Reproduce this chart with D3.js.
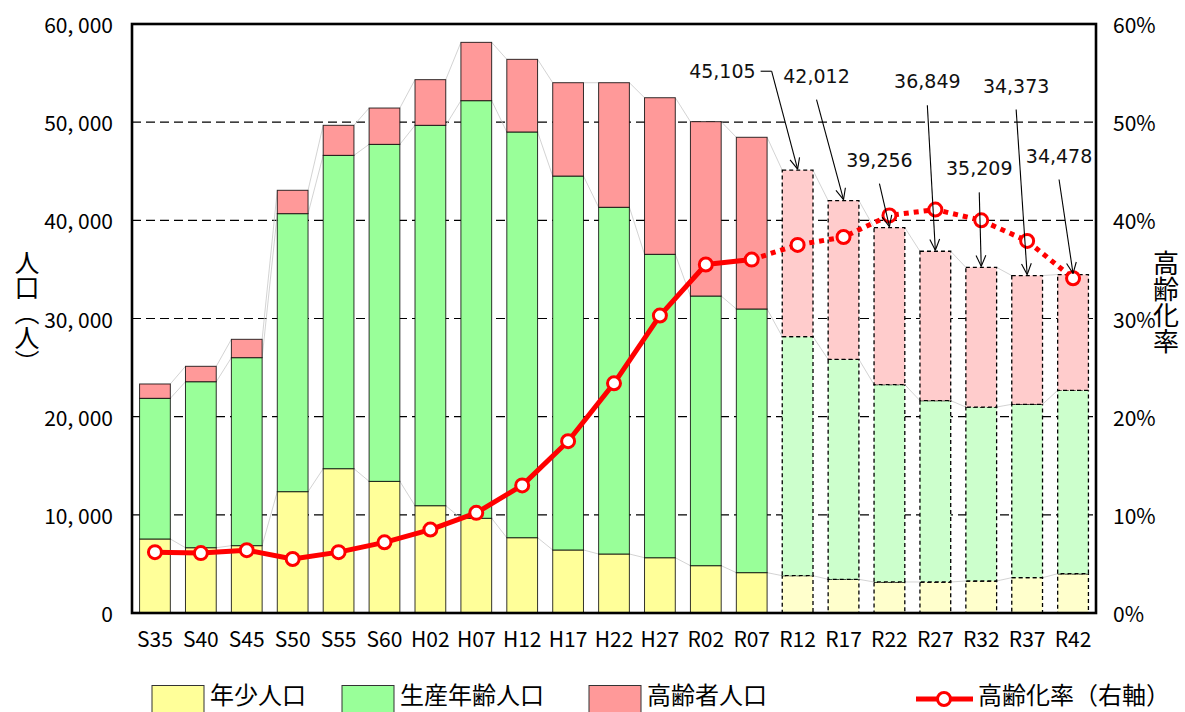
<!DOCTYPE html>
<html><head><meta charset="utf-8">
<script src="https://cdn.jsdelivr.net/npm/d3@7"></script>
<style>html,body{margin:0;padding:0;background:#fff;overflow:hidden}</style>
</head><body>
<svg id="chart" width="1185" height="712"></svg>
<script>
// ---- data ----
const categories = ["S35","S40","S45","S50","S55","S60","H02","H07","H12","H17","H22","H27","R02","R07","R12","R17","R22","R27","R32","R37","R42"];
const youngPop   = [7540,6650,6860,12360,14700,13410,10930,9650,7670,6420,6010,5630,4820,4110,3800,3430,3160,3160,3260,3600,4000];
const workingPop = [14330,16910,19150,28320,31920,34330,38750,42540,41330,38090,35320,30910,27470,26860,24350,22410,20100,18470,17720,17660,18680];
const elderlyPop = [1460,1570,1870,2380,3060,3700,4650,5940,7400,9510,12690,15950,17760,17490,16955,16172,15996,15219,14229,13113,11798];
const agingRate  = [6.2,6.1,6.4,5.5,6.2,7.2,8.5,10.2,13.0,17.5,23.4,30.3,35.5,36.0,37.5,38.3,40.5,41.1,40.0,37.9,34.1];
const projectedFrom = "R12";
const totalLabels = ["45,105","42,012","39,256","36,849","35,209","34,373","34,478"];
const leftTicks = [0,10000,20000,30000,40000,50000,60000];
const rightTicks = [0,10,20,30,40,50,60];
const seriesNames = ["年少人口","生産年齢人口","高齢者人口"];
const lineName = "高齢化率（右軸）";
const leftTitle = "人口（人）";
const rightTitle = "高齢化率";

// ---- layout ----
const plot = {l:132, r:1096, t:24, b:613};
const svg = d3.select("#chart");
const JP = "'MS Gothic','Noto Sans CJK JP',sans-serif";
const NUM = "'MS Gothic','Liberation Sans Narrow','Noto Sans CJK JP',sans-serif";

const x = d3.scaleBand().domain(categories).range([plot.l, plot.r]).paddingInner(0.33).paddingOuter(0.165);
const y = d3.scaleLinear().domain([0,60000]).range([plot.b, plot.t]);
const y2 = d3.scaleLinear().domain([0,60]).range([plot.b, plot.t]);
const projIdx = categories.indexOf(projectedFrom);

const fills = ["#FFFF99","#99FF99","#FF9999"];
const fillsProj = ["#FFFFCC","#CCFFCC","#FFCCCC"];

const rows = categories.map((c,i)=>({cat:c, i, young:youngPop[i], working:workingPop[i], elderly:elderlyPop[i]}));
const stack = d3.stack().keys(["young","working","elderly"])(rows);

// gridlines
svg.append("g").selectAll("line").data(leftTicks.filter(t=>t>0 && t<60000)).join("line")
  .attr("x1",plot.l).attr("x2",plot.r).attr("y1",d=>y(d)).attr("y2",d=>y(d))
  .attr("stroke","#000").attr("stroke-width",1.2).attr("stroke-dasharray","9,5");

// series connector lines
const conn = svg.append("g");
stack.forEach(s=>{
  for(let i=0;i<s.length-1;i++){
    conn.append("line")
      .attr("x1",x(categories[i])+x.bandwidth()).attr("y1",y(s[i][1]))
      .attr("x2",x(categories[i+1])).attr("y2",y(s[i+1][1]))
      .attr("stroke","#c8c8c8").attr("stroke-width",0.8);
  }
});

// bars
stack.forEach((s,k)=>{
  svg.append("g").selectAll("rect").data(s).join("rect")
    .attr("x",d=>x(d.data.cat)).attr("width",x.bandwidth())
    .attr("y",d=>y(d[1])).attr("height",d=>y(d[0])-y(d[1]))
    .attr("fill",d=>d.data.i>=projIdx?fillsProj[k]:fills[k])
    .attr("stroke","#000")
    .attr("stroke-width",d=>d.data.i>=projIdx?1.3:1)
    .attr("stroke-opacity",d=>d.data.i>=projIdx?1:0.8)
    .attr("stroke-dasharray",d=>d.data.i>=projIdx?"4,3":null);
});

// plot border
svg.append("rect").attr("x",plot.l).attr("y",plot.t).attr("width",plot.r-plot.l).attr("height",plot.b-plot.t)
  .attr("fill","none").attr("stroke","#000").attr("stroke-width",2.6);

// aging rate line
const pts = categories.map((c,i)=>[x(c)+x.bandwidth()/2, y2(agingRate[i])]);
const lineGen = d3.line();
svg.append("path").attr("d",lineGen(pts.slice(0,projIdx)))
  .attr("fill","none").attr("stroke","#FF0000").attr("stroke-width",5).attr("stroke-linejoin","round");
svg.append("path").attr("d",lineGen(pts.slice(projIdx-1)))
  .attr("fill","none").attr("stroke","#FF0000").attr("stroke-width",5).attr("stroke-dasharray","5,5");
svg.append("g").selectAll("circle").data(pts).join("circle")
  .attr("cx",d=>d[0]).attr("cy",d=>d[1]).attr("r",6.5)
  .attr("fill","#fff").attr("stroke","#FF0000").attr("stroke-width",3);

// annotations for projected totals
// [arrow start dx, dy (from bar-top tip), text dx, dy (from arrow start), elbow]
const annotLayout = [[-26,-98,-55,0,true],[-27,-100,0,-24],[-10,-43,0,-24],[-8,-145,0,-24],[-2,-74,0,-24],[-11,-165,0,-24],[-14,-94,0,-24]];
const ann = svg.append("g");
totalLabels.forEach((lab,j)=>{
  const i = projIdx + j;
  const total = youngPop[i]+workingPop[i]+elderlyPop[i];
  const tx = x(categories[i])+x.bandwidth()/2, ty = y(total)-1;
  const L = annotLayout[j];
  const sx = tx+L[0], sy = ty+L[1];
  ann.append("line").attr("x1",sx).attr("y1",sy).attr("x2",tx).attr("y2",ty).attr("stroke","#000").attr("stroke-width",1.1);
  const ang = Math.atan2(ty-sy, tx-sx);
  [0.42,-0.42].forEach(a=>{
    ann.append("line").attr("x1",tx).attr("y1",ty)
      .attr("x2",tx-12*Math.cos(ang+a)).attr("y2",ty-12*Math.sin(ang+a))
      .attr("stroke","#000").attr("stroke-width",1.1);
  });
  if(L[4]){
    ann.append("line").attr("x1",sx-11).attr("y1",sy).attr("x2",sx).attr("y2",sy).attr("stroke","#000").attr("stroke-width",1.1);
    ann.append("text").attr("x",sx-16).attr("y",sy).attr("text-anchor","end").attr("dominant-baseline","central")
      .attr("font-family","'DejaVu Sans',Verdana,sans-serif").attr("font-size",19).attr("fill","#111").text(lab);
  } else {
    ann.append("text").attr("x",sx+L[2]).attr("y",sy+L[3]).attr("text-anchor","middle").attr("dominant-baseline","central")
      .attr("font-family","'DejaVu Sans',Verdana,sans-serif").attr("font-size",19).attr("fill","#111").text(lab);
  }
});

// axes labels
svg.append("g").selectAll("text").data(leftTicks).join("text")
  .attr("x",113).attr("y",d=>y(d)).attr("text-anchor","end").attr("dominant-baseline","central")
  .attr("font-family",NUM).attr("font-size",21).attr("fill","#000")
  .text(d=>d3.format(",")(d).replace(",",", "));
svg.append("g").selectAll("text").data(rightTicks).join("text")
  .attr("x",1113).attr("y",d=>y2(d)).attr("text-anchor","start").attr("dominant-baseline","central")
  .attr("font-family",NUM).attr("font-size",21).attr("fill","#000")
  .text(d=>d+"%");
svg.append("g").selectAll("text").data(categories).join("text")
  .attr("x",d=>x(d)+x.bandwidth()/2).attr("y",638).attr("text-anchor","middle").attr("dominant-baseline","central")
  .attr("font-family",NUM).attr("font-size",21).attr("fill","#000")
  .text(d=>d);

// axis titles (vertical)
svg.append("text").attr("x",27).attr("y",250).attr("font-family",JP).attr("font-size",25)
  .style("writing-mode","vertical-rl").attr("fill","#000").text(leftTitle);
svg.append("text").attr("x",1166).attr("y",250).attr("font-family",JP).attr("font-size",26)
  .style("writing-mode","vertical-rl").attr("fill","#000").text(rightTitle);

// legend
const lg = svg.append("g");
const legX = [152, 342, 589];
seriesNames.forEach((n,k)=>{
  lg.append("rect").attr("x",legX[k]).attr("y",685.5).attr("width",52).attr("height",30)
    .attr("fill",fills[k]).attr("stroke","#333").attr("stroke-width",1);
  lg.append("text").attr("x",legX[k]+58).attr("y",704)
    .attr("font-family",JP).attr("font-size",24).attr("fill","#000").text(n);
});
lg.append("line").attr("x1",916).attr("x2",973).attr("y1",699).attr("y2",699).attr("stroke","#FF0000").attr("stroke-width",5);
lg.append("circle").attr("cx",944).attr("cy",699).attr("r",6.5).attr("fill","#fff").attr("stroke","#FF0000").attr("stroke-width",3);
lg.append("text").attr("x",978).attr("y",704)
  .attr("font-family",JP).attr("font-size",24).attr("fill","#000").text(lineName);
</script>
</body></html>
